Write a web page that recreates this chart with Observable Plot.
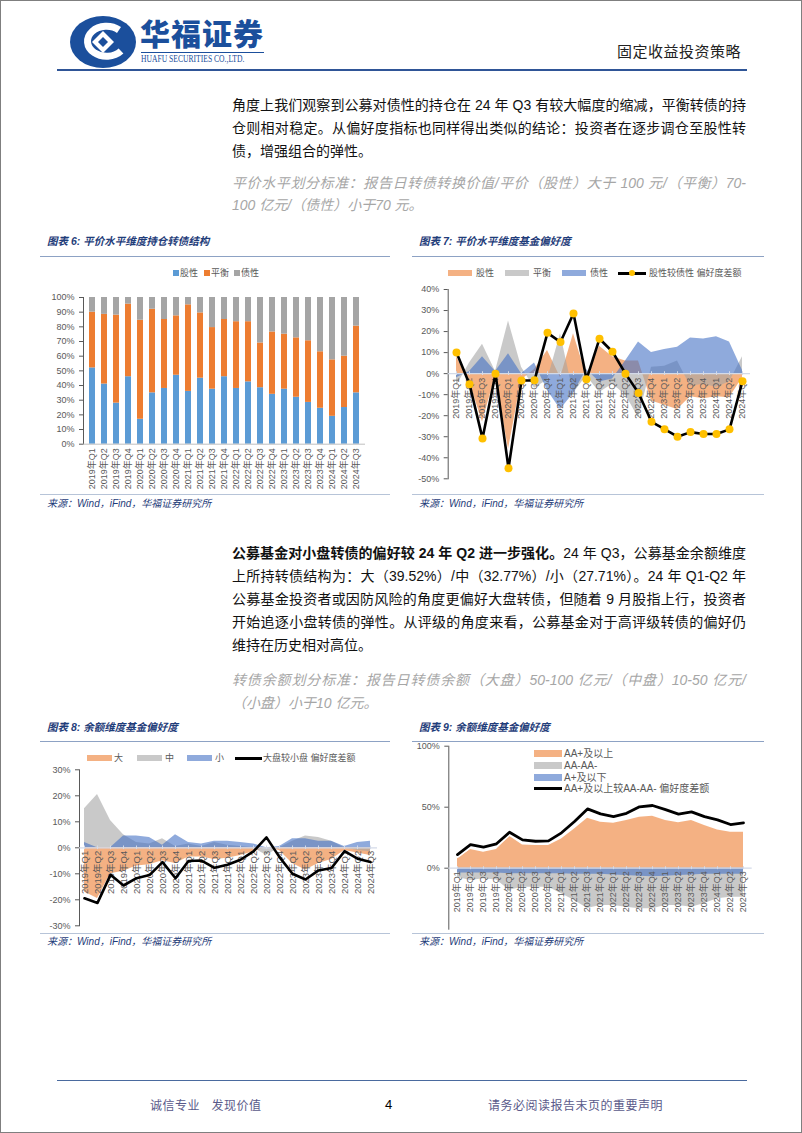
<!DOCTYPE html>
<html><head><meta charset="utf-8">
<script src="https://cdn.jsdelivr.net/npm/d3@7"></script>
<script src="https://cdn.jsdelivr.net/npm/@observablehq/plot@0.6"></script>
<style>
html,body{margin:0;padding:0;background:#fff;}
#page{position:relative;width:802px;height:1133px;overflow:hidden;background:#fff;font-family:"Liberation Sans","Noto Sans CJK SC",sans-serif;}
#border{position:absolute;left:0;top:0;width:800px;height:1131px;border:1px solid #7f7f7f;pointer-events:none;z-index:10;}
.abs{position:absolute;white-space:nowrap;}
.body{position:absolute;left:232px;width:514px;font-size:14px;line-height:20px;color:#111;text-align:justify;text-align-last:justify;white-space:normal;}
.body.last{text-align-last:left;}
.gray{color:#a6a6a6;font-style:italic;}
.title{position:absolute;font-size:10.5px;font-weight:bold;font-style:italic;color:#1f3d7a;line-height:14px;white-space:nowrap;}
.rule{position:absolute;height:0;border-top:1px solid #8da2c4;}
.src{position:absolute;font-size:10px;font-style:italic;color:#1f3d7a;line-height:12px;white-space:nowrap;}
.lg{position:absolute;font-size:9px;color:#595959;line-height:10px;white-space:nowrap;}
.sw{position:absolute;}
.chart{position:absolute;overflow:hidden;}
</style></head>
<body>
<div id="page">
<div id="border"></div>
<!-- header -->
<svg class="abs" style="left:68px;top:15px" width="70" height="54" viewBox="0 0 70 54">
 <ellipse cx="35" cy="27" rx="33" ry="26" fill="#1b4f9c"/>
 <path d="M51 15 A19 15 0 1 0 53 36" fill="none" stroke="#fff" stroke-width="7"/>
 <path d="M35 16 L46 27 L35 38 L24 27 Z" fill="#fff"/>
 <path d="M35 22 L40 27 L35 32 L30 27 Z" fill="#1b4f9c"/>
</svg>
<div class="abs" style="left:140px;top:17px;font-size:30px;font-weight:900;color:#1b4f9c;letter-spacing:1px;line-height:36px;">华福证券</div>
<div class="abs" style="left:141px;top:52px;width:123px;border-top:1px solid #1b4f9c;"></div>
<div class="abs" style="left:141px;top:54px;font-family:'Liberation Serif',serif;font-size:9.5px;color:#1b4f9c;transform:scaleX(0.8);transform-origin:left top;line-height:11px;">HUAFU SECURITIES CO.,LTD.</div>
<div class="abs" style="right:61px;top:42px;font-size:15px;color:#222;line-height:20px;letter-spacing:0.5px;">固定收益投资策略</div>
<div class="abs" style="left:57px;top:69px;width:690px;border-top:2px solid #2f5597;"></div>

<!-- text block 1 -->
<div class="body" style="top:95px">角度上我们观察到公募对债性的持仓在 24 年 Q3 有较大幅度的缩减，平衡转债的持</div>
<div class="body" style="top:118px">仓则相对稳定。从偏好度指标也同样得出类似的结论：投资者在逐步调仓至股性转</div>
<div class="body last" style="top:141px">债，增强组合的弹性。</div>
<div class="body gray" style="top:173px">平价水平划分标准：报告日转债转换价值/平价（股性）大于 100 元/（平衡）70-</div>
<div class="body gray last" style="top:195px">100 亿元/（债性）小于70 元。</div>

<!-- chart 6 / 7 headers -->
<div class="title" style="left:47px;top:234px">图表 6: 平价水平维度持仓转债结构</div>
<div class="title" style="left:419px;top:234px">图表 7: 平价水平维度基金偏好度</div>
<div class="rule" style="left:40px;top:256px;width:350px"></div>
<div class="rule" style="left:412px;top:256px;width:352px"></div>

<!-- chart 6 legend -->
<div class="sw" style="left:173px;top:270px;width:6px;height:6px;background:#5B9BD5"></div>
<div class="lg" style="left:180px;top:268px">股性</div>
<div class="sw" style="left:204px;top:270px;width:6px;height:6px;background:#ED7D31"></div>
<div class="lg" style="left:211px;top:268px">平衡</div>
<div class="sw" style="left:234px;top:270px;width:6px;height:6px;background:#A5A5A5"></div>
<div class="lg" style="left:241px;top:268px">债性</div>
<div id="c6" class="chart" style="left:40px;top:285px;width:350px;height:210px"></div>

<!-- chart 7 legend -->
<div class="sw" style="left:448px;top:270px;width:24px;height:6px;background:#F4B183"></div>
<div class="lg" style="left:476px;top:268px">股性</div>
<div class="sw" style="left:505px;top:270px;width:24px;height:6px;background:#C9C9C9"></div>
<div class="lg" style="left:533px;top:268px">平衡</div>
<div class="sw" style="left:562px;top:270px;width:24px;height:6px;background:#8FAADC"></div>
<div class="lg" style="left:590px;top:268px">债性</div>
<div class="sw" style="left:618px;top:271.5px;width:28px;height:3px;background:#000"></div>
<div class="sw" style="left:629px;top:270px;width:6px;height:6px;border-radius:50%;background:#FFC000"></div>
<div class="lg" style="left:649px;top:268px">股性较债性 偏好度差额</div>
<div id="c7" class="chart" style="left:405px;top:283px;width:375px;height:210px"></div>

<div class="rule" style="left:40px;top:494px;width:350px;border-color:#b7c4d8"></div>
<div class="rule" style="left:412px;top:494px;width:352px;border-color:#b7c4d8"></div>
<div class="src" style="left:47px;top:498px">来源：Wind，iFind，华福证券研究所</div>
<div class="src" style="left:419px;top:498px">来源：Wind，iFind，华福证券研究所</div>

<!-- text block 2 -->
<div class="body" style="top:543px"><b>公募基金对小盘转债的偏好较 24 年 Q2 进一步强化。</b>24 年 Q3，公募基金余额维度</div>
<div class="body" style="top:566px">上所持转债结构为：大（39.52%）/中（32.77%）/小（27.71%）。24 年 Q1-Q2 年</div>
<div class="body" style="top:589px">公募基金投资者或因防风险的角度更偏好大盘转债，但随着 9 月股指上行，投资者</div>
<div class="body" style="top:612px">开始追逐小盘转债的弹性。从评级的角度来看，公募基金对于高评级转债的偏好仍</div>
<div class="body last" style="top:635px">维持在历史相对高位。</div>
<div class="body gray" style="top:670px">转债余额划分标准：报告日转债余额（大盘）50-100 亿元/（中盘）10-50 亿元/</div>
<div class="body gray last" style="top:693px">（小盘）小于10 亿元。</div>

<!-- chart 8 / 9 headers -->
<div class="title" style="left:47px;top:720px">图表 8: 余额维度基金偏好度</div>
<div class="title" style="left:419px;top:720px">图表 9: 余额维度基金偏好度</div>
<div class="rule" style="left:40px;top:741px;width:350px"></div>
<div class="rule" style="left:412px;top:741px;width:352px"></div>

<!-- chart 8 legend -->
<div class="sw" style="left:87px;top:755px;width:25px;height:6px;background:#F4B183"></div>
<div class="lg" style="left:114px;top:753px">大</div>
<div class="sw" style="left:137px;top:755px;width:25px;height:6px;background:#C9C9C9"></div>
<div class="lg" style="left:165px;top:753px">中</div>
<div class="sw" style="left:187px;top:755px;width:25px;height:6px;background:#8FAADC"></div>
<div class="lg" style="left:215px;top:753px">小</div>
<div class="sw" style="left:235px;top:756.5px;width:27px;height:3px;background:#000"></div>
<div class="lg" style="left:263px;top:753px">大盘较小盘 偏好度差额</div>
<div id="c8" class="chart" style="left:40px;top:765px;width:350px;height:167px"></div>

<!-- chart 9 -->
<div id="c9" class="chart" style="left:405px;top:740px;width:375px;height:191px"></div>
<div class="sw" style="left:534px;top:750px;width:28px;height:7px;background:#F4B183"></div>
<div class="lg" style="left:564px;top:748px;font-size:10px;line-height:11px">AA+及以上</div>
<div class="sw" style="left:534px;top:762px;width:28px;height:7px;background:#C9C9C9"></div>
<div class="lg" style="left:564px;top:760px;font-size:10px;line-height:11px">AA-AA-</div>
<div class="sw" style="left:534px;top:774px;width:28px;height:7px;background:#8FAADC"></div>
<div class="lg" style="left:564px;top:772px;font-size:10px;line-height:11px">A+及以下</div>
<div class="sw" style="left:534px;top:786.5px;width:28px;height:3px;background:#000"></div>
<div class="lg" style="left:564px;top:783px;font-size:10px;line-height:11px">AA+及以上较AA-AA- 偏好度差额</div>

<div class="rule" style="left:40px;top:933px;width:350px;border-color:#b7c4d8"></div>
<div class="rule" style="left:412px;top:933px;width:352px;border-color:#b7c4d8"></div>
<div class="src" style="left:47px;top:936px">来源：Wind，iFind，华福证券研究所</div>
<div class="src" style="left:419px;top:936px">来源：Wind，iFind，华福证券研究所</div>

<!-- footer -->
<div class="abs" style="left:57px;top:1080px;width:690px;border-top:1.5px solid #4a6a9e;"></div>
<div class="abs" style="left:150px;top:1098px;font-size:12px;color:#5a5a8a;line-height:16px;letter-spacing:0.5px;">诚信专业&nbsp;&nbsp;&nbsp;发现价值</div>
<div class="abs" style="left:385px;top:1097px;font-size:13px;color:#000;line-height:16px;">4</div>
<div class="abs" style="left:488px;top:1098px;font-size:12px;color:#5a5a8a;line-height:16px;letter-spacing:0.5px;">请务必阅读报告末页的重要声明</div>
</div>

<script>
const quarters = ["2019年Q1","2019年Q2","2019年Q3","2019年Q4","2020年Q1","2020年Q2","2020年Q3","2020年Q4","2021年Q1","2021年Q2","2021年Q3","2021年Q4","2022年Q1","2022年Q2","2022年Q3","2022年Q4","2023年Q1","2023年Q2","2023年Q3","2023年Q4","2024年Q1","2024年Q2","2024年Q3"];

// Chart 6: holdings structure by parity level (%)
const series6 = ["股性","平衡","债性"];
const stock6   = [52, 41, 28, 46, 17, 35, 38, 47, 36, 45, 37.5, 46, 38, 42.5, 38.5, 34, 37.5, 32, 28.5, 24.5, 19, 25, 35];
const balance6 = [38, 47.5, 60, 49.5, 67.5, 57, 47, 40.5, 59, 44.5, 42, 39, 45.5, 41, 30.5, 42.5, 37.5, 40.5, 42, 38.5, 38.5, 35, 45.5];
const bond6    = [10, 11.5, 12, 4.5, 15.5, 8, 15, 12.5, 5, 10.5, 20.5, 15, 16.5, 16.5, 31, 23.5, 25, 27.5, 29.5, 37, 42.5, 40, 19.5];

// Chart 7: fund preference by parity level (%)
const stock7   = [8, -4, -23, -1, -36, -3, 2, 11, -2, 19, -1, 13, 8, 6, 6, -13, -15, -17, -11, -12, -11, -11.5, -2];
const balance7 = [-6, 5, 14, 1, 25, 3, -7, -3, 19, -9.5, -1, -9, -5, -10, -21, 3, 3.5, 6, -6, -5, -6.5, -4, 8];
const bond7    = [-2, 1, 8, 1, 9.5, 0, 5, -8, -17, -9.5, 2, -4, -2.5, 6, 15, 10, 11.5, 12.5, 17, 16.5, 17.5, 15, 1.5];
const diff7    = [10.1, -5, -30.8, 0, -45, -3.3, -3.2, 19.4, 15, 28.6, -2.7, 16.6, 10.4, 0, -9.2, -22.9, -26.4, -30, -27.8, -28.7, -28.7, -26.5, -3.6];

// Chart 8: fund preference by outstanding size (%)
const large8 = [-17, -19.5, -10, -9, -7, -6.5, -5, -6, -3.5, -3.5, -4.5, -4, -3, -1.5, 0, -1, -6, -8.5, -6, -4.5, -1, -2, -3];
const mid8   = [15, 20.5, 10.5, 5, 2, 1.5, 3.5, 0.5, 1.5, 0.5, 2, 1, 0.5, 0, -3, 0, 2.5, 4.5, 4, 2.5, 0, -1, -1.5];
const small8 = [2, 0, 0, 4.5, 4.5, 4, 1, 5, 2, 1.5, 2.5, 2.5, 2, 1.5, 0, 0.5, 3.5, 3.5, 2.5, 2.5, 0.5, 2, 2.5];
const diff8  = [-19.4, -21.2, -10.4, -14.5, -11.7, -10.5, -5.5, -11.7, -5.1, -4.9, -7.7, -6.5, -4.6, -1.4, 4, -3.6, -10, -12.2, -8.7, -7.8, -1.3, -4.2, -5.5];

// Chart 9: fund preference by rating (%)
const aaPlus9 = [7.7, 15.3, 13.1, 15.3, 26.2, 19.1, 18.6, 18.6, 24, 32.2, 41, 37.7, 36.9, 39, 41.8, 42.6, 39, 37.2, 39, 35, 31.4, 29.5, 29.5];
const aa9     = [-7.4, -10, -8.7, -9.6, -18, -15.6, -15.6, -15.6, -21, -26.5, -33, -30.6, -30.6, -32, -33.3, -33.3, -30.6, -30.6, -32, -29, -25, -23.8, -23.8];
const aMinus9 = [-4, -4, -4, -4, -4.5, -4.5, -4.5, -4.5, -4.5, -5, -5, -5, -5.5, -6, -6.5, -7, -6.5, -6, -5.5, -5, -5, -5, -5];
const diff9   = [11.2, 19.4, 17.2, 20, 29.5, 23.2, 22.1, 22.4, 29, 38.3, 48.6, 44.5, 42.3, 45, 50.3, 51.4, 48, 44.3, 46.2, 42.3, 39.6, 35.8, 37.2];

const FONT = '"Liberation Sans","Noto Sans CJK SC",sans-serif';
const baseStyle = {fontFamily: FONT, fontSize: "9px", color: "#595959", background: "none"};
const pct = d => d + "%";
const ORANGE = "#ED7D31", GRAY = "#A5A5A5", BLUE = "#4472C4";

// ---- Chart 6
const data6 = [];
[[series6[0], stock6], [series6[1], balance6], [series6[2], bond6]].forEach(([s, arr]) =>
  arr.forEach((v, i) => data6.push({q: quarters[i], s, v})));
const c6 = Plot.plot({
  width: 350, height: 210, marginLeft: 43, marginRight: 25, marginTop: 12, marginBottom: 51.3,
  style: baseStyle,
  x: {domain: quarters, paddingInner: 0.48, paddingOuter: 0.24, label: null, tickSize: 0, tickRotate: -90, tickPadding: 4},
  y: {domain: [0, 100], ticks: d3.range(0, 101, 10), tickFormat: pct, label: null, tickSize: 4, line: true},
  color: {domain: series6, range: ["#5B9BD5", ORANGE, GRAY]},
  marks: [
    Plot.barY(data6, {x: "q", y: "v", fill: "s"}),
    Plot.ruleY([0], {stroke: "#bfbfbf"})
  ]
});
document.getElementById("c6").appendChild(c6);

// ---- Chart 7
const rows7 = quarters.map((q, i) => ({q, stock: stock7[i], balance: balance7[i], bond: bond7[i], diff: diff7[i]}));
const c7 = Plot.plot({
  width: 375, height: 210, marginLeft: 42.7, marginRight: 30, marginTop: 6, marginBottom: 14.7,
  style: baseStyle,
  x: {type: "point", domain: quarters, range: [50, 338], padding: 0, axis: null},
  y: {domain: [-50, 40], ticks: d3.range(-50, 41, 10), tickFormat: pct, label: null, tickSize: 4, line: true},
  marks: [
    Plot.areaY(rows7, {x: "q", y1: 0, y2: "stock", fill: ORANGE, fillOpacity: 0.6}),
    Plot.areaY(rows7, {x: "q", y1: 0, y2: "balance", fill: GRAY, fillOpacity: 0.6}),
    Plot.areaY(rows7, {x: "q", y1: 0, y2: "bond", fill: BLUE, fillOpacity: 0.6}),
    Plot.ruleY([0], {stroke: "#d3dae8", strokeWidth: 1.2}),
    Plot.ruleX(quarters, {x: d => d, y1: -0.9, y2: 0.9, stroke: "#d3dae8"}),
    Plot.text(quarters, {x: d => d, y: 0, text: d => d, rotate: -90, textAnchor: "end", dy: 4, fill: "#595959", fontSize: 9}),
    Plot.line(rows7, {x: "q", y: "diff", stroke: "#000", strokeWidth: 2.6}),
    Plot.dot(rows7, {x: "q", y: "diff", r: 4, fill: "#FFC000", stroke: "none"})
  ]
});
document.getElementById("c7").appendChild(c7);

// ---- Chart 8
const rows8 = quarters.map((q, i) => ({q, large: large8[i], mid: mid8[i], small: small8[i], diff: diff8[i]}));
const c8 = Plot.plot({
  width: 350, height: 167, marginLeft: 39, marginRight: 13, marginTop: 4.3, marginBottom: 6.7,
  style: baseStyle,
  x: {type: "point", domain: quarters, range: [43.3, 331.7], padding: 0, axis: null},
  y: {domain: [-30, 30], ticks: d3.range(-30, 31, 10), tickFormat: pct, label: null, tickSize: 4, line: true},
  marks: [
    Plot.areaY(rows8, {x: "q", y1: 0, y2: "large", fill: ORANGE, fillOpacity: 0.6}),
    Plot.areaY(rows8, {x: "q", y1: 0, y2: "mid", fill: GRAY, fillOpacity: 0.6}),
    Plot.areaY(rows8, {x: "q", y1: 0, y2: "small", fill: BLUE, fillOpacity: 0.6}),
    Plot.ruleY([0], {stroke: "#d3dae8", strokeWidth: 1.2}),
    Plot.ruleX(quarters, {x: d => d, y1: -0.7, y2: 0.7, stroke: "#d3dae8"}),
    Plot.text(quarters, {x: d => d, y: 0, text: d => d, rotate: -90, textAnchor: "end", dy: 3, fill: "#595959", fontSize: 9.5}),
    Plot.line(rows8, {x: "q", y: "diff", stroke: "#000", strokeWidth: 2.6})
  ]
});
document.getElementById("c8").appendChild(c8);

// ---- Chart 9
const rows9 = quarters.map((q, i) => ({q, aaPlus: aaPlus9[i], aa: aa9[i], aMinus: aMinus9[i], diff: diff9[i]}));
const c9 = Plot.plot({
  width: 375, height: 191, marginLeft: 43.3, marginRight: 28.3, marginTop: 5.7, marginBottom: 2.3,
  style: baseStyle,
  x: {type: "point", domain: quarters, range: [50.7, 340], padding: 0, axis: null},
  y: {domain: [-50, 100], ticks: [0, 50, 100], tickFormat: pct, label: null, tickSize: 4, line: true},
  marks: [
    Plot.areaY(rows9, {x: "q", y1: 0, y2: "aaPlus", fill: ORANGE, fillOpacity: 0.6}),
    Plot.areaY(rows9, {x: "q", y1: 0, y2: "aa", fill: GRAY, fillOpacity: 0.6}),
    Plot.areaY(rows9, {x: "q", y1: 0, y2: "aMinus", fill: BLUE, fillOpacity: 0.6}),
    Plot.ruleY([0], {stroke: "#d3dae8", strokeWidth: 1.2}),
    Plot.ruleX(quarters, {x: d => d, y1: -1.2, y2: 1.2, stroke: "#d3dae8"}),
    Plot.text(quarters, {x: d => d, y: 0, text: d => d, rotate: -90, textAnchor: "end", dy: 3, fill: "#595959", fontSize: 9}),
    Plot.line(rows9, {x: "q", y: "diff", stroke: "#fff", strokeWidth: 6}),
    Plot.line(rows9, {x: "q", y: "diff", stroke: "#000", strokeWidth: 2.8})
  ]
});
document.getElementById("c9").appendChild(c9);
</script>
</body></html>
